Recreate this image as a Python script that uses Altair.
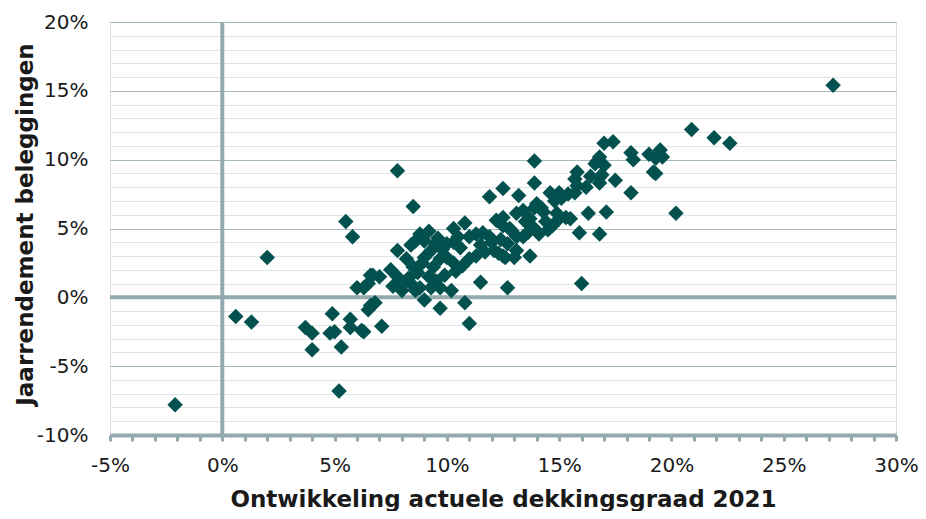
import altair as alt
import pandas as pd

# Ontwikkeling actuele dekkingsgraad 2021 (%), Jaarrendement beleggingen (%)
dekking = [
    -2.1, 0.6, 1.3, 2.0,
    3.7, 4.0, 4.0, 4.9, 4.8, 5.0, 5.3, 5.7, 5.7, 6.3, 7.1, 5.2, 6.5, 6.8, 6.6, 6.2,
    5.5, 5.8,
    6.0, 6.5, 6.6, 7.0, 7.5, 6.3, 6.7,
    7.8, 8.5, 7.8, 8.2, 8.8, 9.0, 9.6, 9.3, 9.0, 9.7, 9.4, 10.3, 10.8, 10.3, 10.6, 10.0,
    10.3, 11.0, 11.3, 11.6, 11.9, 11.7, 12.1, 12.2, 12.5, 12.9, 12.6, 11.5, 12.7, 13.1, 13.5,
    7.8, 8.1, 8.4, 8.8, 9.3, 9.7, 10.2, 8.6, 8.0, 9.0, 9.7, 10.8, 11.0,
    8.0, 7.6, 8.3, 8.7, 9.2, 9.5, 9.9, 10.4, 10.7, 11.0, 11.3, 8.5, 8.9, 9.8, 10.0, 10.5,
    9.5, 9.2, 8.6, 8.4,
    13.9, 13.9, 12.5, 13.2, 11.9, 15.8, 15.7, 15.8, 15.7, 16.7, 16.6, 16.9, 16.8, 17.5, 16.3,
    17.1, 15.9, 16.8, 16.0, 14.6, 15.0, 14.8, 15.1, 14.2, 13.9, 14.3, 15.0, 15.5, 12.5, 13.4,
    13.7, 12.8, 13.9, 14.5, 13.1, 13.4, 12.7, 12.5, 13.1, 13.7, 12.3, 13.0,
    17.0, 17.4, 18.2, 18.3, 19.0, 19.5, 19.6, 19.3, 19.2, 19.3, 18.2, 20.2, 16.8, 16.8,
    20.9, 21.9, 22.6, 27.2,
    14.0, 14.4, 14.7, 15.3, 14.9, 13.6, 14.1, 12.0, 12.4, 11.5, 15.4, 16.2, 16.4, 17.0,
]
rendement = [
    -7.8, -1.4, -1.8, 2.9,
    -2.2, -2.6, -3.8, -1.2, -2.6, -2.5, -3.6, -1.6, -2.2, -2.5, -2.1, -6.8, -0.9, -0.4, -0.6, -2.4,
    5.5, 4.4,
    0.7, 1.0, 1.6, 1.5, 2.0, 0.7, 1.6,
    9.2, 6.6, 3.4, 2.8, 4.6, 4.1, 4.3, 3.4, 2.9, 2.8, 2.2, 5.0, 5.4, 4.0, 3.6, 2.9,
    2.5, 4.4, 4.6, 4.7, 4.4, 3.3, 3.4, 5.6, 5.2, 4.8, 2.9, 1.1, 0.7, 6.1, 5.5,
    1.5, 1.1, 1.0, 0.7, 0.7, 0.7, 0.5, 0.5, 0.5, -0.2, -0.8, -0.4, -1.9,
    0.9, 0.8, 1.4, 1.8, 1.5, 1.2, 1.6, 1.9, 2.3, 2.8, 3.0, 2.2, 2.5, 3.5, 3.9, 4.4,
    3.9, 4.8, 4.1, 3.8,
    9.9, 8.3, 7.9, 7.4, 7.3, 9.1, 8.6, 8.1, 7.6, 9.9, 9.7, 8.9, 8.3, 8.5, 6.1,
    6.2, 4.7, 4.6, 1.0, 7.6, 7.6, 7.0, 7.2, 6.5, 6.5, 6.2, 5.7, 5.7, 5.8, 6.3,
    5.7, 5.0, 5.0, 4.9, 4.4, 4.4, 3.9, 3.0, 3.4, 3.0, 3.2, 2.9,
    11.2, 11.3, 10.5, 10.0, 10.4, 10.7, 10.2, 10.1, 9.1, 9.0, 7.6, 6.1, 10.2, 8.7,
    12.2, 11.6, 11.2, 15.4,
    6.8, 5.5, 5.2, 5.8, 6.1, 4.7, 4.6, 4.0, 4.2, 3.8, 7.5, 8.0, 8.8, 9.6,
]

x_ticks = list(range(-5, 31))
y_ticks = list(range(-10, 21))
x_domain = [-5, 30]
y_domain = [-10, 20]
cross_x = [0]
cross_y = [0]

AX = "#93abaf"
FONT = "DejaVu Sans"
TXT = "#1a1a1a"

df = pd.DataFrame({"dekking": dekking, "rendement": rendement})

xscale = alt.Scale(domain=x_domain, nice=False, zero=False)
yscale = alt.Scale(domain=y_domain, nice=False, zero=False)

xaxis = alt.Axis(
    values=x_ticks,
    labelExpr="datum.value % 5 === 0 ? datum.value + '%' : ''",
    labelOverlap=False, labelFlush=False,
    grid=False,
    domainColor=AX, domainWidth=4,
    tickColor=AX, tickWidth=3, tickSize=6,
    labelPadding=14, labelFont=FONT, labelFontSize=20, labelColor=TXT,
    title="Ontwikkeling actuele dekkingsgraad 2021",
    titleFont=FONT, titleFontSize=23, titleFontWeight="bold", titleColor=TXT,
    titleBaseline="alphabetic", titleY=71,
)
yaxis = alt.Axis(
    values=y_ticks,
    labelExpr="datum.value % 5 === 0 ? datum.value + '%' : ''",
    labelOverlap=False, labelFlush=False,
    grid=True,
    gridColor={"condition": {"test": "datum.value % 5 === 0", "value": "#a5b8bb"}, "value": "#dde5e7"},
    gridWidth=1,
    domain=False, ticks=False,
    labelPadding=22, labelFont=FONT, labelFontSize=20, labelColor=TXT,
    title="Jaarrendement beleggingen",
    titleFont=FONT, titleFontSize=23, titleFontWeight="bold", titleColor=TXT,
    titleBaseline="alphabetic", titleX=-78, titleY=202,
)

points = alt.Chart(df).mark_point(
    shape="diamond", filled=True, opacity=1, size=240, color="#03514f"
).encode(
    x=alt.X("dekking:Q", scale=xscale, axis=xaxis),
    y=alt.Y("rendement:Q", scale=yscale, axis=yaxis),
)

h0 = alt.Chart(pd.DataFrame({"rendement": cross_y})).mark_rule(color=AX, strokeWidth=4).encode(
    y=alt.Y("rendement:Q", scale=yscale, axis=yaxis)
)
v0 = alt.Chart(pd.DataFrame({"dekking": cross_x})).mark_rule(color=AX, strokeWidth=4).encode(
    x=alt.X("dekking:Q", scale=xscale, axis=xaxis)
)

chart = alt.layer(h0, v0, points).properties(
    width=786, height=413,
    autosize=alt.AutoSizeParams(type="none"),
    padding={"left": 102, "top": 14, "right": 22, "bottom": 76},
).configure_view(stroke=None).configure(background="white")

chart.save("out.html", embed_options={"renderer": "svg", "actions": False})
